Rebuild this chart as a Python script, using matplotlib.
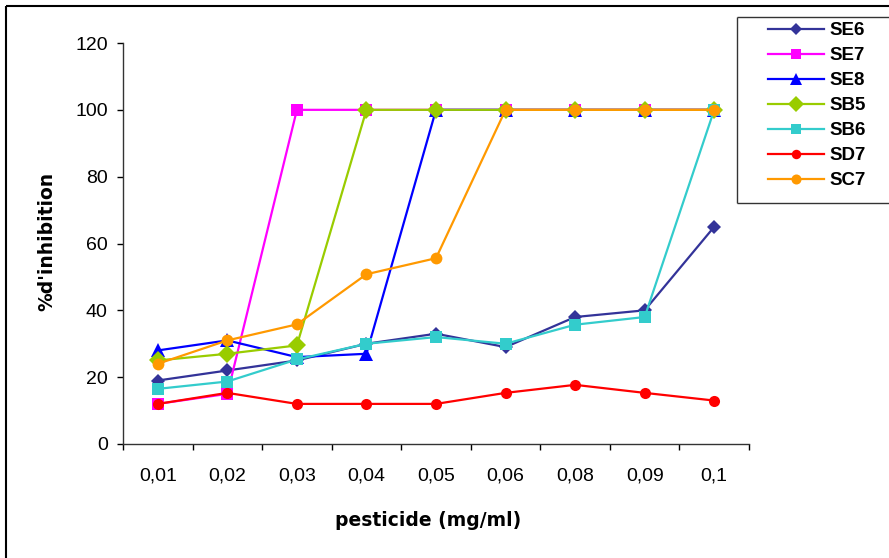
import matplotlib
matplotlib.use("Agg")
import matplotlib.pyplot as plt
from matplotlib.lines import Line2D
import numpy as np

plt.rcParams['font.family'] = ['Liberation Sans', 'DejaVu Sans']

concentrations = ["0,01", "0,02", "0,03", "0,04", "0,05", "0,06", "0,08", "0,09", "0,1"]

se6 = [19, 22, 25, 30, 33, 29, 38, 40, 65]
se7 = [12, 15, 100, 100, 100, 100, 100, 100, 100]
se8 = [28, 31, 26, 27, 100, 100, 100, 100, 100]
sb5 = [25, 27, 29.5, 100, 100, 100, 100, 100, 100]
sb6 = [16.5, 18.7, 25.3, 30, 32, 30, 35.7, 38, 100]
sd7 = [12, 15.3, 12, 12, 12, 15.3, 17.7, 15.3, 13]
sc7 = [24, 31, 35.8, 50.8, 55.6, 100, 100, 100, 100]

series_names = ["SE6", "SE7", "SE8", "SB5", "SB6", "SD7", "SC7"]
series_values = [se6, se7, se8, sb5, sb6, sd7, sc7]
colors = ["#333399", "#FF00FF", "#0000FF", "#99CC00", "#33CCCC", "#FF0000", "#FF9900"]
markers = ["D", "s", "^", "D", "s", "o", "o"]
msizes = [7.5, 8, 9.5, 9.5, 8, 8, 8.5]

W, H = 889, 558
fig = plt.figure(figsize=(W / 100, H / 100), dpi=100)
ax = fig.add_axes([123 / W, 1 - 444 / H, (749 - 123) / W, (444 - 43) / H])

x = np.arange(len(concentrations))
for name, vals, c, m, ms in zip(series_names, series_values, colors, markers, msizes):
    ax.plot(x, vals, color=c, marker=m, markersize=ms, linewidth=1.6,
            markeredgewidth=0, label=name, clip_on=False)

ax.set_xlim(-0.5, len(concentrations) - 0.5)
ax.set_ylim(0, 120)
ax.set_yticks(np.arange(0, 121, 20))
ax.set_xticks(np.arange(-0.5, len(concentrations), 1.0))
ax.set_xticklabels([])
ax.set_xticks(x, minor=True)
ax.set_xticklabels(concentrations, minor=True)
ax.tick_params(axis='x', which='minor', length=0, pad=17, labelsize=14)
ax.tick_params(axis='x', which='major', direction='out', length=4, width=1)
ax.tick_params(axis='y', direction='out', length=4, width=1, labelsize=14, pad=7)

for side in ("top", "right"):
    ax.spines[side].set_visible(False)
for side in ("left", "bottom"):
    ax.spines[side].set_linewidth(1.0)
    ax.spines[side].set_color("#333333")

fig.text(47 / W, 1 - 241 / H, "%d'inhibition", rotation=90, ha='center', va='center',
         fontsize=13.5, fontweight='bold', family='DejaVu Sans')
fig.text(428 / W, 1 - 520 / H, "pesticide (mg/ml)", ha='center', va='center',
         fontsize=13.5, fontweight='bold', family='DejaVu Sans')


def fig_line(xs, ys, **kw):
    fig.add_artist(Line2D([v / W for v in xs], [1 - v / H for v in ys],
                          transform=fig.transFigure, solid_capstyle='butt', **kw))


# legend frame (runs off the right edge of the chart area)
frame_kw = dict(color='#333333', linewidth=1.0)
fig_line([736.5, 736.5], [16.5, 202.5], **frame_kw)
fig_line([736.5, W], [16.5, 16.5], **frame_kw)
fig_line([736.5, W], [202.5, 202.5], **frame_kw)

leg_handles = [Line2D([], [], color=c, marker=m, markersize=ms * 0.85, linewidth=1.6,
                      markeredgewidth=0)
               for c, m, ms in zip(colors, markers, msizes)]
leg = fig.legend(leg_handles, series_names, loc='upper left',
                 bbox_to_anchor=(768 / W, 1 - 22 / H), frameon=False,
                 prop={'weight': 'bold', 'size': 13.5},
                 handlelength=3.0, labelspacing=0.42, borderpad=0, handletextpad=0.3,
                 borderaxespad=0)

# chart area border (left and top edges)
fig_line([5.5, 5.5], [H, 5.5], color='black', linewidth=1.5)
fig_line([5.5, W], [5.5, 5.5], color='black', linewidth=1.5)

fig.savefig("out.png", dpi=100)
